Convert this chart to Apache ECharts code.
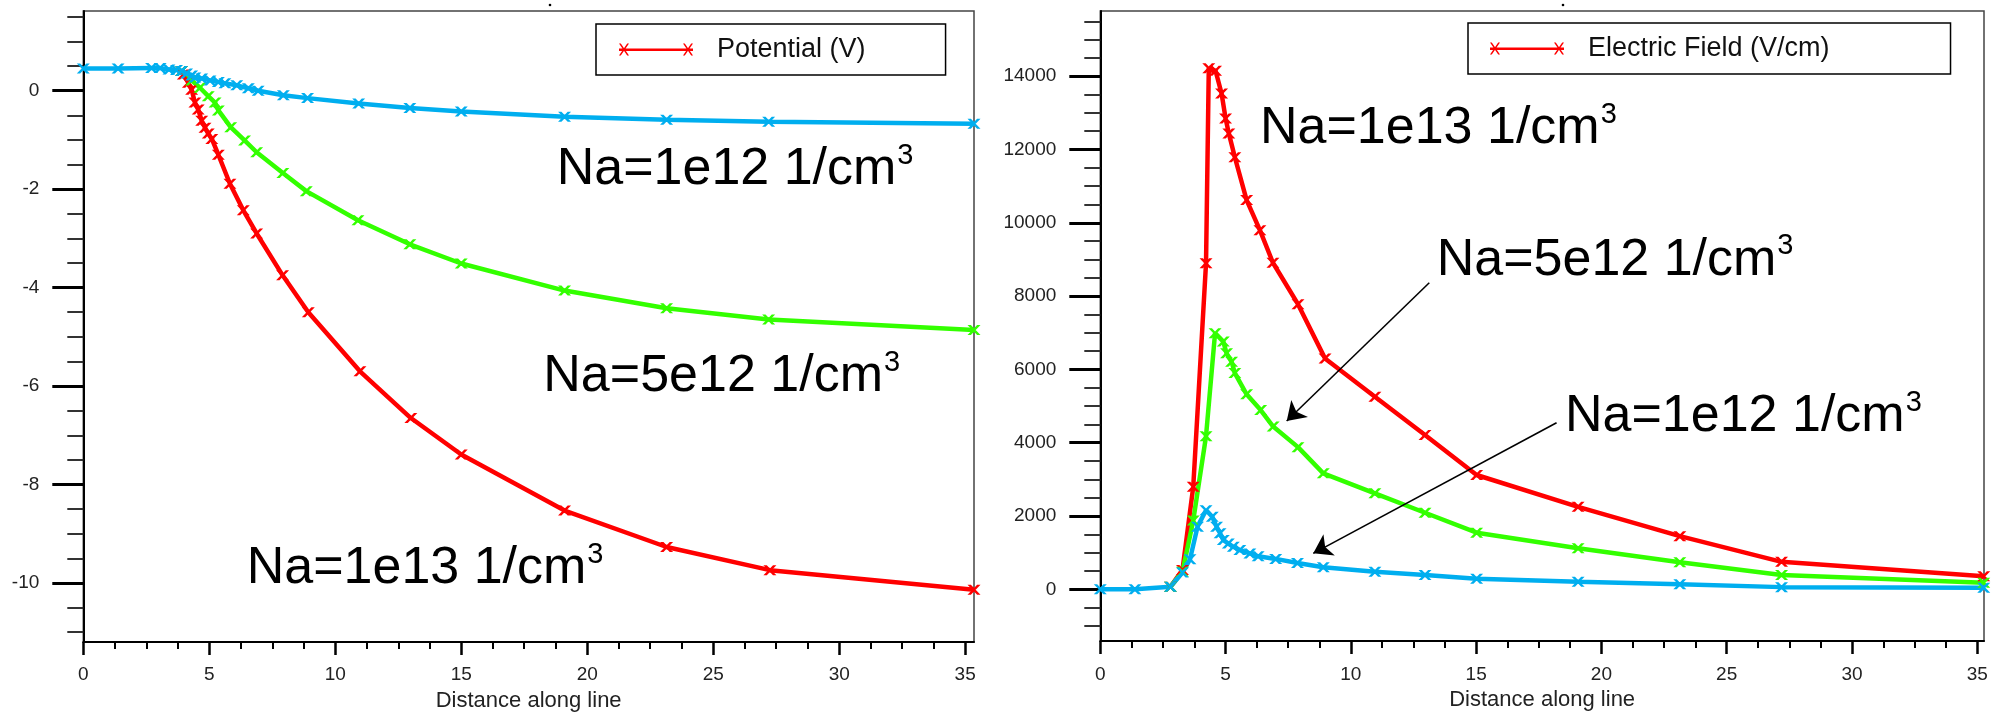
<!DOCTYPE html>
<html>
<head>
<meta charset="utf-8">
<script src="https://cdn.jsdelivr.net/npm/echarts@6/dist/echarts.min.js"></script>
<style>
html,body{margin:0;padding:0;background:#fff;}
#chart{width:1998px;height:717px;}
</style>
</head>
<body>
<div id="chart"></div>
<script>
// ---------------- data ----------------
const xTickLabels = [0, 5, 10, 15, 20, 25, 30, 35];
const potYTickLabels = [-10, -8, -6, -4, -2, 0];
const efYTickLabels = [0, 2000, 4000, 6000, 8000, 10000, 12000, 14000];

// Potential (V) along line
const potX_1e12 = [0, 1.38, 2.71, 3.05, 3.4, 3.7, 3.9, 4.1, 4.3, 4.43, 4.7, 5.03, 5.36, 5.62, 6.09, 6.55, 6.94, 7.94, 8.9, 10.93, 12.96, 15.0, 19.1, 23.15, 27.2, 35.35];
const pot_1e12  = [0.45, 0.45, 0.46, 0.46, 0.43, 0.42, 0.40, 0.35, 0.31, 0.27, 0.25, 0.21, 0.18, 0.15, 0.11, 0.05, 0.0, -0.09, -0.15, -0.26, -0.35, -0.42, -0.53, -0.59, -0.63, -0.67];
const potX_5e12 = [3.9, 4.3, 4.63, 4.96, 5.23, 5.36, 5.85, 6.4, 6.88, 7.92, 8.85, 10.9, 12.96, 15.0, 19.1, 23.15, 27.2, 35.35];
const pot_5e12  = [0.40, 0.21, 0.06, -0.11, -0.24, -0.40, -0.74, -1.01, -1.25, -1.67, -2.04, -2.63, -3.12, -3.51, -4.06, -4.42, -4.65, -4.86];
const potX_1e13 = [3.9, 3.97, 4.17, 4.3, 4.43, 4.56, 4.7, 4.83, 4.96, 5.1, 5.36, 5.82, 6.35, 6.88, 7.91, 8.93, 10.98, 13.0, 15.0, 19.1, 23.15, 27.25, 35.35];
const pot_1e13  = [0.40, 0.33, 0.16, 0.02, -0.24, -0.38, -0.61, -0.75, -0.87, -0.98, -1.30, -1.89, -2.43, -2.90, -3.75, -4.50, -5.70, -6.65, -7.39, -8.53, -9.27, -9.74, -10.14];

// Electric Field (V/cm) along line
const efX_1e12 = [0, 1.38, 2.8, 3.28, 3.58, 3.88, 4.22, 4.47, 4.64, 4.78, 4.91, 5.11, 5.31, 5.57, 5.97, 6.3, 7.0, 7.87, 8.9, 10.96, 12.96, 15.02, 19.07, 23.13, 27.19, 35.26];
const ef_1e12  = [0, 0, 70, 460, 820, 1710, 2160, 1980, 1710, 1530, 1345, 1250, 1160, 1070, 980, 900, 830, 720, 600, 480, 390, 290, 210, 140, 60, 40];
const efX_5e12 = [2.8, 3.28, 3.71, 4.22, 4.58, 4.91, 5.04, 5.24, 5.37, 5.84, 6.4, 6.9, 7.89, 8.9, 10.96, 12.96, 15.02, 19.07, 23.13, 27.19, 35.26];
const ef_5e12  = [70, 480, 1880, 4180, 6990, 6760, 6440, 6210, 5900, 5320, 4890, 4440, 3880, 3165, 2620, 2090, 1545, 1120, 740, 390, 180];
const efX_1e13 = [2.8, 3.28, 3.71, 4.22, 4.33, 4.6, 4.84, 5.0, 5.13, 5.37, 5.84, 6.37, 6.89, 7.89, 8.97, 10.96, 12.96, 15.02, 19.07, 23.13, 27.19, 35.26];
const ef_1e13  = [70, 530, 2800, 8900, 14220, 14150, 13530, 12850, 12440, 11790, 10620, 9800, 8910, 7780, 6300, 5255, 4210, 3120, 2250, 1450, 750, 360];

// arrows (data coords of right panel): [fromX, fromY, toX, toY]
const efArrows = [[13.13, 8366, 7.44, 4592], [18.21, 4546, 8.5, 982]];

const legendNames = ['Potential (V)', 'Electric Field (V/cm)'];
const labelTexts = ['Na=1e12 1/cm', 'Na=5e12 1/cm', 'Na=1e13 1/cm'];
const labelSup = '3';
const axisName = 'Distance along line';

// ---------------- helpers ----------------
const FONT = '"Liberation Sans", Arial, Helvetica, sans-serif';
const RED = '#ff0000', GREEN = '#33ff00', BLUE = '#00aeef';
const XMARK = 'path://M0,0 L2.6,0 L10,10 L7.4,10 Z M7.4,0 L10,0 L2.6,10 L0,10 Z';
const LEGEND_ICON = 'path://M0,4.9 L74,4.9 L74,7.6 L0,7.6 Z ' +
  'M0,0 L1.8,0 L10,12 L8.2,12 Z M8.2,0 L10,0 L1.8,12 L0,12 Z ' +
  'M64,0 L65.8,0 L74,12 L72.2,12 Z M72.2,0 L74,0 L65.8,12 L64,12 Z';

function zip(xs, ys) { return xs.map((x, i) => [x, ys[i]]); }
function range(a, b, s) { const r = []; for (let v = a; v <= b + 1e-9; v += s) r.push(+v.toFixed(4)); return r; }

const xMinor = range(0, 35, 1.25).filter(v => xTickLabels.indexOf(v) < 0);
const potYMinor = range(-11, 1.5, 0.5).filter(v => potYTickLabels.indexOf(v) < 0);
const efYMinor = range(-1000, 15500, 500).filter(v => efYTickLabels.indexOf(v) < 0);

const LX = {min: 0, max: 35.35}, RX = {min: 0, max: 35.27};
const LY = {min: -11.2, max: 1.62}, RY = {min: -1410, max: 15780};
const plain = v => String(v);

function majorX(grid, ext, nameGap, margin) {
  return {
    type: 'value', gridIndex: grid, min: ext.min, max: ext.max, position: 'bottom',
    name: axisName, nameLocation: 'middle', nameGap: nameGap,
    nameTextStyle: {fontFamily: FONT, fontSize: 22, color: '#222'},
    axisLine: {show: true, onZero: false, lineStyle: {color: '#000', width: 2}},
    axisTick: {show: true, length: 13, customValues: xTickLabels, lineStyle: {color: '#000', width: 2.5}},
    axisLabel: {show: true, customValues: xTickLabels, formatter: plain, margin: margin, fontFamily: FONT, fontSize: 19, color: '#222'},
    splitLine: {show: false}
  };
}
function minorX(grid, ext) {
  return {
    type: 'value', gridIndex: grid, min: ext.min, max: ext.max, position: 'bottom',
    axisLine: {show: false, onZero: false},
    axisTick: {show: true, length: 7, customValues: xMinor, lineStyle: {color: '#000', width: 2}},
    axisLabel: {show: false}, splitLine: {show: false}
  };
}
function majorY(grid, ext, ticks, margin) {
  return {
    type: 'value', gridIndex: grid, min: ext.min, max: ext.max, position: 'left',
    axisLine: {show: true, onZero: false, lineStyle: {color: '#000', width: 2}},
    axisTick: {show: true, length: 31, customValues: ticks, lineStyle: {color: '#000', width: 3}},
    axisLabel: {show: true, customValues: ticks, formatter: plain, margin: margin, fontFamily: FONT, fontSize: 19, color: '#222'},
    splitLine: {show: false}
  };
}
function minorY(grid, ext, ticks) {
  return {
    type: 'value', gridIndex: grid, min: ext.min, max: ext.max, position: 'left',
    axisLine: {show: false, onZero: false},
    axisTick: {show: true, length: 16, customValues: ticks, lineStyle: {color: '#333', width: 2}},
    axisLabel: {show: false}, splitLine: {show: false}
  };
}
function lineSeries(name, color, data, xi, yi) {
  return {
    type: 'line', name: name, data: data, xAxisIndex: xi, yAxisIndex: yi,
    symbol: XMARK, symbolSize: [13, 10], showSymbol: true,
    lineStyle: {color: color, width: 4.5}, itemStyle: {color: color, borderWidth: 0},
    silent: true, animation: false, z: 3
  };
}
function legendBox(name, left, top, padding) {
  return {
    data: [name], left: left, top: top, orient: 'horizontal', padding: padding,
    itemWidth: 74, itemHeight: 12, icon: LEGEND_ICON,
    itemStyle: {borderWidth: 0},
    borderColor: '#000', borderWidth: 1.5, backgroundColor: '#fff',
    textStyle: {fontFamily: FONT, fontSize: 27, lineHeight: 27, color: '#111', padding: [0, 0, 0, 19]},
    selectedMode: false
  };
}
function txt(text, x, y) {
  return {type: 'text', z: 10, style: {
    text: '{m|' + text + '}{s|' + labelSup + '}', x: x, y: y, fill: '#000',
    fontFamily: FONT, fontSize: 52, align: 'left', verticalAlign: 'middle',
    rich: {
      m: {fontFamily: FONT, fontSize: 52, fill: '#000', lineHeight: 60},
      s: {fontFamily: FONT, fontSize: 29, fill: '#000', lineHeight: 30, padding: [0, 0, 28, 1]}
    }
  }};
}

const arrowSeries = {
  type: 'line', name: 'arrows', data: [], xAxisIndex: 2, yAxisIndex: 2, silent: true, animation: false,
  markLine: {
    silent: true, animation: false, symbol: ['none', 'arrow'], symbolSize: 18,
    label: {show: false},
    lineStyle: {color: '#000', width: 1.6, type: 'solid'},
    emphasis: {disabled: true},
    data: efArrows.map(a => [{coord: [a[0], a[1]]}, {coord: [a[2], a[3]]}])
  }
};

const option = {
  backgroundColor: '#ffffff',
  animation: false,
  grid: [
    {left: 83.3, top: 11, width: 890.7, height: 635, show: true, borderColor: '#444', borderWidth: 1.5, backgroundColor: '#fff'},
    {left: 1100.3, top: 11, width: 883.7, height: 630, show: true, borderColor: '#444', borderWidth: 1.5, backgroundColor: '#fff'}
  ],
  xAxis: [majorX(0, LX, 48, 23), minorX(0, LX), majorX(1, RX, 48, 24), minorX(1, RX)],
  yAxis: [majorY(0, LY, potYTickLabels, 44), minorY(0, LY, potYMinor), majorY(1, RY, efYTickLabels, 44), minorY(1, RY, efYMinor)],
  legend: [
    legendBox(legendNames[0], 596, 24, [12, 80, 12, 23]),
    legendBox(legendNames[1], 1468, 23, [12, 121, 12, 22])
  ],
  series: [
    lineSeries(legendNames[0], RED, zip(potX_1e13, pot_1e13), 0, 0),
    lineSeries('Na=5e12 potential', GREEN, zip(potX_5e12, pot_5e12), 0, 0),
    lineSeries('Na=1e12 potential', BLUE, zip(potX_1e12, pot_1e12), 0, 0),
    lineSeries(legendNames[1], RED, zip(efX_1e13, ef_1e13), 2, 2),
    lineSeries('Na=5e12 field', GREEN, zip(efX_5e12, ef_5e12), 2, 2),
    lineSeries('Na=1e12 field', BLUE, zip(efX_1e12, ef_1e12), 2, 2),
    arrowSeries
  ],
  graphic: [
    txt(labelTexts[0], 556.7, 170),
    txt(labelTexts[1], 543.3, 377),
    txt(labelTexts[2], 246.7, 568.7),
    txt(labelTexts[2], 1260, 128.7),
    txt(labelTexts[1], 1436.7, 260.3),
    txt(labelTexts[0], 1565, 417),
    {type: 'circle', shape: {cx: 550, cy: 5, r: 1.3}, style: {fill: '#000'}},
    {type: 'circle', shape: {cx: 1563, cy: 5, r: 1.3}, style: {fill: '#000'}}
  ]
};

const chart = echarts.init(document.getElementById('chart'), null, {renderer: 'canvas', width: 1998, height: 717});
chart.setOption(option);
</script>
</body>
</html>
